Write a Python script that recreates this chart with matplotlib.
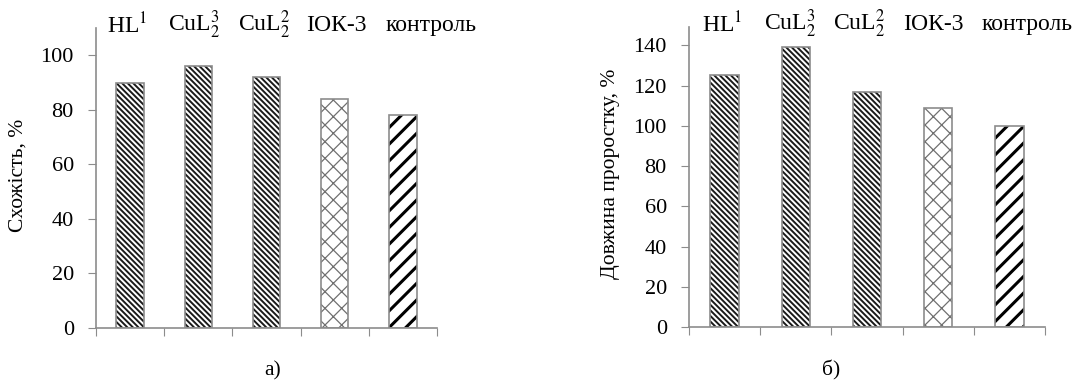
import matplotlib
matplotlib.use('Agg')
import matplotlib.pyplot as plt
import numpy as np

plt.rcParams['font.family'] = ['Liberation Serif', 'DejaVu Serif']
plt.rcParams['mathtext.fontset'] = 'stix'

# дані
categories = ['HL$^1$', 'CuL$_2^3$', 'CuL$_2^2$', 'ІОК-3', 'контроль']
germination = [90, 96, 92, 84, 78]          # схожість, %
sprout_length = [125, 139, 117, 109, 100]   # довжина проростку, %

hatches = ['\\' * 6, '\\' * 6, '\\' * 6, 'xx', '//']
hatch_colors = ['#1a1a1a', '#1a1a1a', '#1a1a1a', '#707070', '#000000']
hatch_widths = [1.4, 1.4, 1.4, 0.9, 2.2]

AXIS_GRAY = '#8c8c8c'

fig = plt.figure(figsize=(10.8, 3.83), dpi=100)


def draw_panel(rect, values, ymax, yticks, ylabel, lab_x, caption, cap_x, shifts):
    ax = fig.add_axes(rect)
    x = np.arange(len(values))
    for i, v in enumerate(values):
        b = ax.bar(x[i], v, 0.4, color='white', edgecolor=hatch_colors[i],
                   hatch=hatches[i], linewidth=0)
        for p in b:
            if hasattr(p, 'set_hatch_linewidth'):
                p.set_hatch_linewidth(hatch_widths[i])
    # контур стовпчиків
    ax.bar(x, values, 0.4, fill=False, edgecolor=AXIS_GRAY, linewidth=1.2)

    ax.set_xlim(-0.5, len(values) - 0.5)
    ax.set_ylim(0, ymax)
    ax.set_yticks(yticks)
    ax.set_xticks(np.arange(len(values) + 1) - 0.5)
    ax.set_xticklabels([])
    ax.tick_params(axis='y', direction='out', length=6, color=AXIS_GRAY,
                   labelsize=16, pad=10)
    ax.tick_params(axis='x', direction='out', length=6, color=AXIS_GRAY)
    for s in ['top', 'right']:
        ax.spines[s].set_visible(False)
    for s in ['left', 'bottom']:
        ax.spines[s].set_color(AXIS_GRAY)
        ax.spines[s].set_linewidth(1.2)
    ax.set_ylabel(ylabel, fontsize=15.5)
    ax.yaxis.set_label_coords(lab_x, 0.51)

    for i, lab in enumerate(categories):
        ax.text(x[i] + shifts[i], 1.01, lab, transform=ax.get_xaxis_transform(),
                ha='center', va='center', fontsize=17)
    fig.text(cap_x, 0.033, caption, ha='center', va='center', fontsize=15.5)
    return ax


draw_panel([0.0889, 0.1436, 0.3157, 0.783], germination, 110,
           [0, 20, 40, 60, 80, 100], 'Схожість, %', -0.2, 'а)', 0.252,
           [-0.04, -0.06, -0.04, 0.03, 0.41])
draw_panel([0.638, 0.146, 0.3296, 0.783], sprout_length, 149,
           [0, 20, 40, 60, 80, 100, 120, 140], 'Довжина проростку, %', -0.194,
           'б)', 0.770, [-0.03, -0.08, -0.11, -0.07, 0.25])

plt.savefig('out.png', dpi=100)
